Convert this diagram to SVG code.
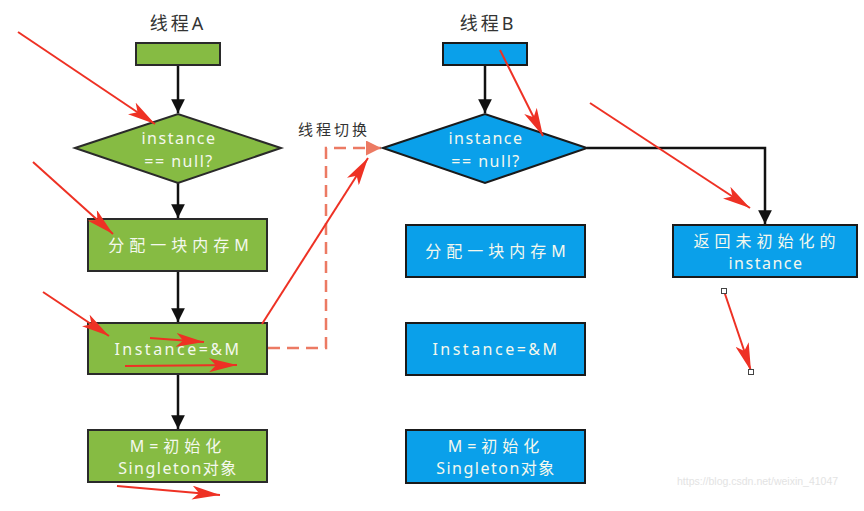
<svg xmlns="http://www.w3.org/2000/svg" width="864" height="511" viewBox="0 0 864 511">
<defs>
<style>
.g{fill:#86bb43;stroke:#2a2a2a;stroke-width:2}
.b{fill:#0aa0ea;stroke:#1a1a1a;stroke-width:2}
.t{fill:#f4f8ee;font-family:"Noto Sans","Noto Sans CJK SC",sans-serif;font-size:16px;letter-spacing:1.5px;text-anchor:middle}
.cj{letter-spacing:5px}
.lbl{fill:#333;font-family:"Noto Sans","Noto Sans CJK SC",sans-serif;font-size:18px;letter-spacing:3px;text-anchor:middle}
.c{stroke:#111;stroke-width:2.5;fill:none}
.r{stroke:#ee3124;stroke-width:2;fill:none}
.d{stroke:#ec7a63;stroke-width:2.5;fill:none;stroke-dasharray:12 7}
</style>
<marker id="ah" viewBox="0 0 10 10" refX="10" refY="5" markerWidth="5.5" markerHeight="5.5" orient="auto" markerUnits="strokeWidth"><path d="M0,0 L10,5 L0,10 z" fill="#111"/></marker>
<marker id="rh" viewBox="0 0 20 10" refX="20" refY="5" markerWidth="14" markerHeight="7" orient="auto" markerUnits="strokeWidth"><path d="M0,0 L20,5 L0,10 L5,5 z" fill="#ee3124"/></marker>
<marker id="dh" viewBox="0 0 10 10" refX="10" refY="5" markerWidth="6" markerHeight="6" orient="auto" markerUnits="strokeWidth"><path d="M0,0 L10,5 L0,10 z" fill="#ec7a63"/></marker>
</defs>
<rect width="864" height="511" fill="#fff"/>
<text class="lbl" x="178" y="30">线程A</text>
<text class="lbl" x="488" y="30">线程B</text>
<text class="lbl" x="334" y="135" style="font-size:15px">线程切换</text>
<g id="connectors">
<line class="c" x1="178" y1="65" x2="178" y2="113" marker-end="url(#ah)"/>
<line class="c" x1="178" y1="183" x2="178" y2="218" marker-end="url(#ah)"/>
<line class="c" x1="178" y1="271" x2="178" y2="322" marker-end="url(#ah)"/>
<line class="c" x1="178" y1="374" x2="178" y2="429" marker-end="url(#ah)"/>
<line class="c" x1="485" y1="65" x2="485" y2="113" marker-end="url(#ah)"/>
<polyline class="c" points="587,148 765,148 765,224" marker-end="url(#ah)"/>
<polyline class="d" points="268,348 326,348 326,148 381,148" marker-end="url(#dh)"/>
</g>
<g id="startA"><rect class="g" x="136" y="43" width="84" height="22"/></g>
<g id="decisionA"><polygon class="g" points="75,148 178,114 281,148 178,183"/><text class="t" x="179" y="144">instance</text><text class="t" x="179" y="167">== null?</text></g>
<g id="allocA"><rect class="g" x="88" y="219" width="179" height="52"/><text class="t cj" x="181" y="251">分配一块内存M</text></g>
<g id="assignA"><rect class="g" x="88" y="323" width="179" height="51"/><text class="t" x="178" y="355" style="letter-spacing:2.5px">Instance=&amp;M</text></g>
<g id="initA"><rect class="g" x="88" y="430" width="179" height="52"/><text class="t cj" x="178" y="452">M=初始化</text><text class="t" x="178" y="474">Singleton对象</text></g>
<g id="startB"><rect class="b" x="443" y="43" width="84" height="22"/></g>
<g id="decisionB"><polygon class="b" points="383,148 485,114 587,148 485,183"/><text class="t" x="486" y="144">instance</text><text class="t" x="486" y="167">== null?</text></g>
<g id="allocB"><rect class="b" x="406" y="225" width="179" height="52"/><text class="t cj" x="498" y="257">分配一块内存M</text></g>
<g id="assignB"><rect class="b" x="406" y="323" width="179" height="52"/><text class="t" x="496" y="355" style="letter-spacing:2.5px">Instance=&amp;M</text></g>
<g id="initB"><rect class="b" x="406" y="430" width="179" height="53"/><text class="t cj" x="496" y="452">M=初始化</text><text class="t" x="496" y="474">Singleton对象</text></g>
<g id="returnB"><rect class="b" x="673" y="225" width="184" height="52"/><text class="t cj" x="767" y="247">返回未初始化的</text><text class="t" x="766" y="269">instance</text></g>
<g id="annotations">
<line class="r" x1="18" y1="32" x2="155" y2="124" marker-end="url(#rh)"/>
<line class="r" x1="33" y1="162" x2="113" y2="234" marker-end="url(#rh)"/>
<line class="r" x1="43" y1="292" x2="109" y2="336" marker-end="url(#rh)"/>
<line class="r" x1="150" y1="338" x2="204" y2="342" marker-end="url(#rh)"/>
<line class="r" x1="125" y1="366" x2="237" y2="365" marker-end="url(#rh)"/>
<line class="r" x1="117" y1="486" x2="220" y2="495" marker-end="url(#rh)"/>
<line class="r" x1="262" y1="324" x2="368" y2="158" marker-end="url(#rh)"/>
<line class="r" x1="500" y1="50" x2="543" y2="136" marker-end="url(#rh)"/>
<line class="r" x1="590" y1="103" x2="750" y2="208" marker-end="url(#rh)"/>
<line class="r" x1="724" y1="291" x2="751" y2="371" marker-end="url(#rh)"/>
<rect x="721.5" y="288.5" width="5" height="5" fill="#fff" stroke="#444" stroke-width="1"/>
<rect x="748.5" y="369.5" width="5" height="5" fill="#fff" stroke="#444" stroke-width="1"/>
</g>
<text x="677" y="485" style="fill:#e3e3e3;font-family:'Liberation Sans',sans-serif;font-size:10.5px">https://blog.csdn.net/weixin_41047</text>
</svg>
